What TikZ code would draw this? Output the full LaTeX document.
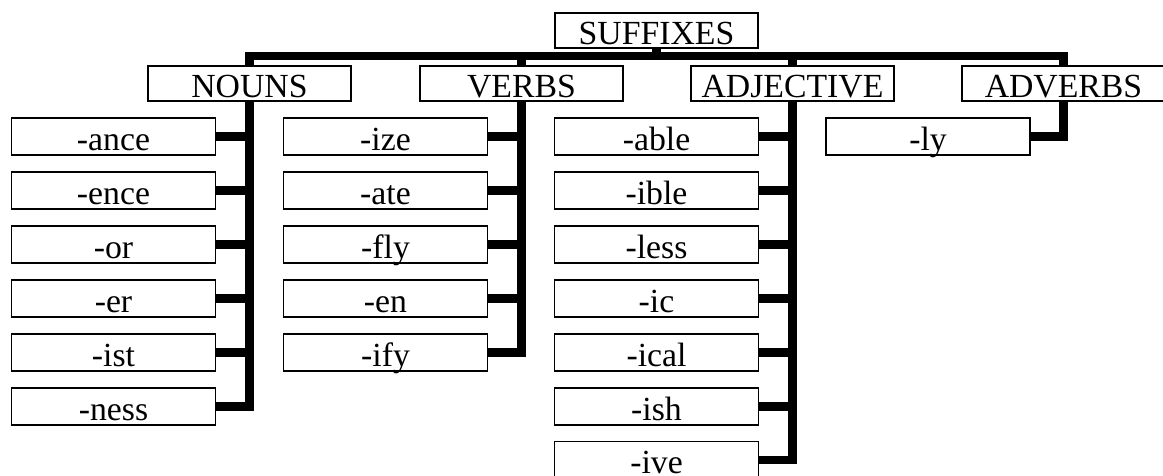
\documentclass[tikz,border=0pt]{standalone}
\usepackage{fontspec}
\setmainfont{Liberation Serif}
\tikzset{
    BX1/.style ={rectangle, draw, line width=1pt, inner sep=0pt, minimum width=5.08cm, text height=0.775cm, text depth=0.1cm, font=\fontsize{24}{24}\selectfont},
    BX2/.style ={rectangle, draw, line width=1pt, inner sep=0pt, minimum width=5.1cm, text height=0.8cm, text depth=0.125cm, font=\fontsize{24}{24}\selectfont},
    LN/.style ={line width=6.3pt, line join=miter}}

\begin{document}
\begin{tikzpicture}[x=0.025cm,y=-0.025cm]
        \useasboundingbox (0,0) rectangle (1163,475);
        % top and word classes
        \node[BX1] (S) at(656.5,30.5){SUFFIXES};
        \node[BX1] (N) at(249.5,83.5){NOUNS};
        \node[BX1] (V) at(521.5,83.5){VERBS};
        \node[BX1] (A) at(792.5,83.5){ADJECTIVE};
        \node[BX1] (D) at(1063.5,83.5){ADVERBS};
        \coordinate (B) at(656.5,56);
        % nouns
        \node[BX2] (N1) at(113.5,136.5){-ance};
        \node[BX2] (N2) at(113.5,190.5){-ence};
        \node[BX2] (N3) at(113.5,244.5){-or};
        \node[BX2] (N4) at(113.5,298.5){-er};
        \node[BX2] (N5) at(113.5,352.5){-ist};
        \node[BX2] (N6) at(113.5,406.5){-ness};
        % verbs
        \node[BX2] (V1) at(385.5,136.5){-ize};
        \node[BX2] (V2) at(385.5,190.5){-ate};
        \node[BX2] (V3) at(385.5,244.5){-fly};
        \node[BX2] (V4) at(385.5,298.5){-en};
        \node[BX2] (V5) at(385.5,352.5){-ify};
        % adjectives
        \node[BX2] (A1) at(656.5,136.5){-able};
        \node[BX2] (A2) at(656.5,190.5){-ible};
        \node[BX2] (A3) at(656.5,244.5){-less};
        \node[BX2] (A4) at(656.5,298.5){-ic};
        \node[BX2] (A5) at(656.5,352.5){-ical};
        \node[BX2] (A6) at(656.5,406.5){-ish};
        \node[BX2] (A7) at(656.5,460){-ive};
        % adverbs
        \node[BX2] (D1) at(928,136.5){-ly};
        % connectors
        \draw[LN] (S.south) -- (B);
        \draw[LN] (N.north) |- (B) -| (D.north);
        \draw[LN] (V.north) -- (V.north |- B);
        \draw[LN] (A.north) -- (A.north |- B);
        \draw[LN] (N.south) |- (N6.east);
        \draw[LN] (N1.east) -- (N1.east -| N.south);
        \draw[LN] (N2.east) -- (N2.east -| N.south);
        \draw[LN] (N3.east) -- (N3.east -| N.south);
        \draw[LN] (N4.east) -- (N4.east -| N.south);
        \draw[LN] (N5.east) -- (N5.east -| N.south);
        \draw[LN] (V.south) |- (V5.east);
        \draw[LN] (V1.east) -- (V1.east -| V.south);
        \draw[LN] (V2.east) -- (V2.east -| V.south);
        \draw[LN] (V3.east) -- (V3.east -| V.south);
        \draw[LN] (V4.east) -- (V4.east -| V.south);
        \draw[LN] (A.south) |- (A7.east);
        \draw[LN] (A1.east) -- (A1.east -| A.south);
        \draw[LN] (A2.east) -- (A2.east -| A.south);
        \draw[LN] (A3.east) -- (A3.east -| A.south);
        \draw[LN] (A4.east) -- (A4.east -| A.south);
        \draw[LN] (A5.east) -- (A5.east -| A.south);
        \draw[LN] (A6.east) -- (A6.east -| A.south);
        \draw[LN] (D.south) |- (D1.east);
    \end{tikzpicture}
\end{document}
